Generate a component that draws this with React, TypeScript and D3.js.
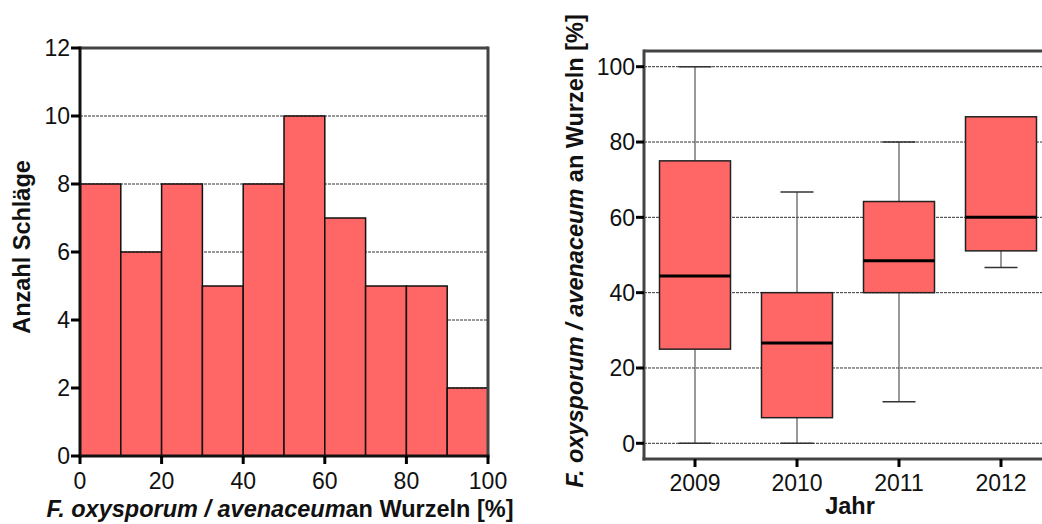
import React from "react";
import * as d3 from "d3";

// Histogram data
const binEdges = [0, 10, 20, 30, 40, 50, 60, 70, 80, 90, 100];
const binCounts = [8, 6, 8, 5, 8, 10, 7, 5, 5, 2];
const histYTicks = [0, 2, 4, 6, 8, 10, 12];
const histXTicks = [0, 20, 40, 60, 80, 100];

// Boxplot data
const years = ["2009", "2010", "2011", "2012"];
const boxMin = [0, 0, 11, 46.7];
const boxQ1 = [25, 6.8, 40, 51.1];
const boxMedian = [44.4, 26.6, 48.5, 60];
const boxQ3 = [75, 40, 64.2, 86.7];
const boxMax = [100, 66.7, 80, 86.7];
const boxYTicks = [0, 20, 40, 60, 80, 100];

const FILL = "#FF6666";
const FONT = "'Liberation Sans', Arial, sans-serif";

export default function App() {
  // Left histogram
  const hx = d3.scaleLinear().domain([0, 100]).range([80, 488]);
  const hy = d3.scaleLinear().domain([0, 12]).range([456, 48]);

  // Right boxplot
  const bx = d3.scaleBand().domain(years).range([644, 1052]).padding(0);
  const by = d3.scaleLinear().domain([0, 100]).range([443.3, 66.7]);
  const bTop = 51;
  const bBottom = 459;
  const bLeft = 644;
  const bRight = 1052;
  const boxW = 71;
  const capW = 33;

  return (
    <svg
      width={1042}
      height={524}
      style={{ position: "absolute", left: 0, top: 0, background: "#fff" }}
      fontFamily={FONT}
    >
      {/* ---------- Histogram ---------- */}
      <g>
        {histYTicks.filter((t) => t > 0).map((t) => (
          <line
            key={"hg" + t}
            x1={hx(0)}
            x2={hx(100)}
            y1={hy(t)}
            y2={hy(t)}
            stroke="#333"
            strokeWidth={1}
            strokeDasharray="3,1"
          />
        ))}
        {binCounts.map((c, i) => (
          <rect
            key={"bar" + i}
            x={hx(binEdges[i])}
            y={hy(c)}
            width={hx(binEdges[i + 1]) - hx(binEdges[i])}
            height={hy(0) - hy(c)}
            fill={FILL}
            stroke="#111"
            strokeWidth={1.5}
          />
        ))}
        {/* frame */}
        <line x1={hx(0)} x2={hx(100)} y1={hy(12)} y2={hy(12)} stroke="#444" strokeWidth={3} />
        <line x1={hx(100)} x2={hx(100)} y1={hy(12) - 1.5} y2={hy(0)} stroke="#444" strokeWidth={3} />
        <line x1={hx(0)} x2={hx(0)} y1={hy(12) - 1.5} y2={hy(0) + 1.5} stroke="#111" strokeWidth={3} />
        <line x1={hx(0) - 1.5} x2={hx(100) + 1.5} y1={hy(0)} y2={hy(0)} stroke="#111" strokeWidth={3} />
        {histYTicks.map((t) => (
          <g key={"hyt" + t}>
            <line x1={hx(0) - 9} x2={hx(0)} y1={hy(t)} y2={hy(t)} stroke="#000" strokeWidth={3} />
            <text x={hx(0) - 10} y={hy(t)} dy="0.36em" textAnchor="end" fontSize={23} fill="#111">
              {t}
            </text>
          </g>
        ))}
        {histXTicks.map((t) => (
          <g key={"hxt" + t}>
            <line x1={hx(t)} x2={hx(t)} y1={hy(0)} y2={hy(0) + 8} stroke="#000" strokeWidth={3} />
            <text x={hx(t)} y={489} textAnchor="middle" fontSize={23} fill="#111">
              {t}
            </text>
          </g>
        ))}
        <text
          transform="translate(30,247) rotate(-90)"
          textAnchor="middle"
          fontSize={23.5}
          fontWeight="bold"
          fill="#111"
        >
          Anzahl Schläge
        </text>
        <text x={280} y={517} textAnchor="middle" fontSize={23.5} fontWeight="bold" fill="#111">
          <tspan fontStyle="italic">F. oxysporum / avenaceum</tspan>
          <tspan>an Wurzeln [%]</tspan>
        </text>
      </g>

      {/* ---------- Boxplot ---------- */}
      <g>
        {boxYTicks.map((t) => (
          <line
            key={"bg" + t}
            x1={bLeft}
            x2={bRight}
            y1={by(t)}
            y2={by(t)}
            stroke="#333"
            strokeWidth={1}
            strokeDasharray="3,1"
          />
        ))}
        {years.map((yr, i) => {
          const cx = (bx(yr) as number) + bx.bandwidth() / 2;
          return (
            <g key={"box" + yr}>
              {boxMax[i] > boxQ3[i] && (
                <>
                  <line x1={cx} x2={cx} y1={by(boxMax[i])} y2={by(boxQ3[i])} stroke="#555" strokeWidth={1.2} />
                  <line x1={cx - capW / 2} x2={cx + capW / 2} y1={by(boxMax[i])} y2={by(boxMax[i])} stroke="#333" strokeWidth={1.5} />
                </>
              )}
              {boxMin[i] < boxQ1[i] && (
                <>
                  <line x1={cx} x2={cx} y1={by(boxQ1[i])} y2={by(boxMin[i])} stroke="#555" strokeWidth={1.2} />
                  <line x1={cx - capW / 2} x2={cx + capW / 2} y1={by(boxMin[i])} y2={by(boxMin[i])} stroke="#333" strokeWidth={1.5} />
                </>
              )}
              <rect
                x={cx - boxW / 2}
                y={by(boxQ3[i])}
                width={boxW}
                height={by(boxQ1[i]) - by(boxQ3[i])}
                fill={FILL}
                stroke="#222"
                strokeWidth={1.5}
              />
              <line
                x1={cx - boxW / 2}
                x2={cx + boxW / 2}
                y1={by(boxMedian[i])}
                y2={by(boxMedian[i])}
                stroke="#000"
                strokeWidth={3}
              />
            </g>
          );
        })}
        {/* frame */}
        <line x1={bLeft} x2={bRight} y1={bTop} y2={bTop} stroke="#444" strokeWidth={3} />
        <line x1={bRight} x2={bRight} y1={bTop} y2={bBottom} stroke="#444" strokeWidth={3} />
        <line x1={bLeft} x2={bLeft} y1={bTop - 1.5} y2={bBottom + 1.5} stroke="#444" strokeWidth={3} />
        <line x1={bLeft - 1.5} x2={bRight} y1={bBottom} y2={bBottom} stroke="#444" strokeWidth={3} />
        {boxYTicks.map((t) => (
          <g key={"byt" + t}>
            <line x1={bLeft - 8} x2={bLeft} y1={by(t)} y2={by(t)} stroke="#000" strokeWidth={3} />
            <text x={bLeft - 9} y={by(t)} dy="0.36em" textAnchor="end" fontSize={23} fill="#111">
              {t}
            </text>
          </g>
        ))}
        {years.map((yr) => {
          const cx = (bx(yr) as number) + bx.bandwidth() / 2;
          return (
            <g key={"bxt" + yr}>
              <line x1={cx} x2={cx} y1={bBottom} y2={bBottom + 8} stroke="#000" strokeWidth={3} />
              <text x={cx} y={491} textAnchor="middle" fontSize={23} fill="#111">
                {yr}
              </text>
            </g>
          );
        })}
        <text x={850} y={514} textAnchor="middle" fontSize={23.5} fontWeight="bold" fill="#111">
          Jahr
        </text>
        <text
          transform="translate(583,251) rotate(-90)"
          textAnchor="middle"
          fontSize={23.5}
          fontWeight="bold"
          fill="#111"
        >
          <tspan fontStyle="italic">F. oxysporum / avenaceum</tspan>
          <tspan> an Wurzeln [%]</tspan>
        </text>
      </g>
    </svg>
  );
}
